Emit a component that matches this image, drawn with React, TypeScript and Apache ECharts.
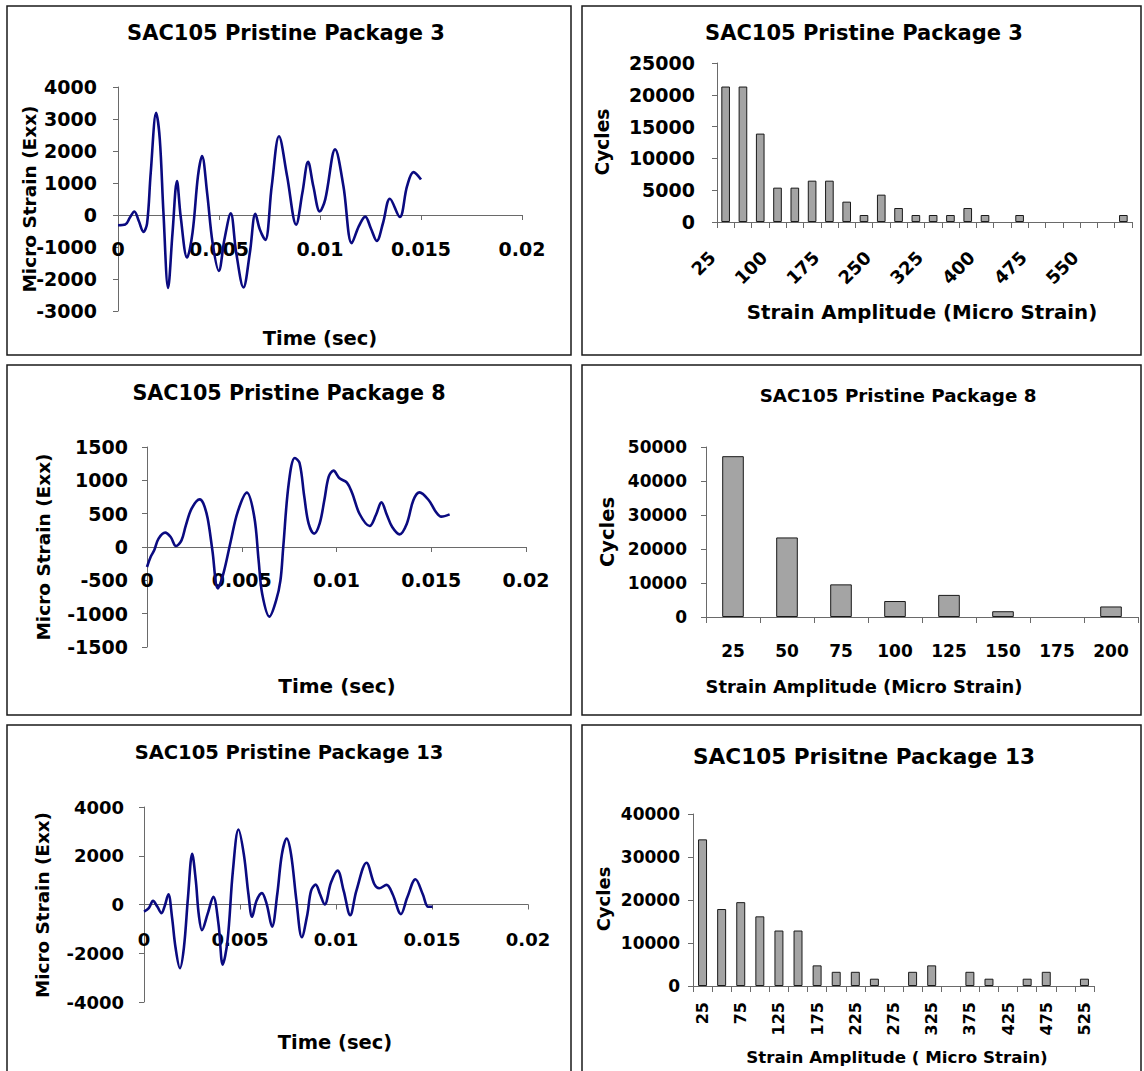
import React, { useEffect, useRef } from 'react';
import * as echarts from 'echarts';

const FONT = '"DejaVu Sans", sans-serif';

// ---- Strain history, Package 3 ----
const P3_TIME = [0, 0.00036, 0.00059, 0.00081, 0.00103, 0.00126, 0.00144, 0.00162, 0.00189, 0.00207, 0.00225, 0.00248, 0.0027, 0.00292, 0.0031, 0.00342, 0.00369, 0.00396, 0.00416, 0.00441, 0.00468, 0.00499, 0.00527, 0.00558, 0.00585, 0.00621, 0.00653, 0.0068, 0.00702, 0.00729, 0.00761, 0.00797, 0.00837, 0.00882, 0.00913, 0.00941, 0.00967, 0.00999, 0.01026, 0.01075, 0.01116, 0.01157, 0.01193, 0.01224, 0.01252, 0.01281, 0.01312, 0.01346, 0.01395, 0.01431, 0.01463, 0.015];
const P3_STRAIN = [-320, -300, -80, 110, -190, -530, -260, 1320, 3190, 2360, 70, -2280, -550, 1060, -30, -1330, -550, 1220, 1840, 700, -860, -1745, -760, 50, -1170, -2265, -1170, 40, -450, -780, 900, 2460, 1220, -300, 700, 1660, 900, 110, 490, 2050, 900, -880, -340, -50, -420, -810, -250, 510, -60, 900, 1340, 1110];

// ---- Strain history, Package 8 ----
const P8_TIME = [0, 0.00019, 0.00038, 0.00061, 0.00096, 0.00125, 0.00153, 0.00182, 0.00205, 0.00236, 0.00278, 0.00297, 0.0032, 0.00345, 0.00374, 0.00403, 0.00441, 0.00479, 0.00527, 0.00566, 0.00589, 0.00608, 0.00646, 0.00681, 0.00704, 0.00719, 0.00748, 0.0078, 0.00805, 0.0083, 0.00853, 0.00882, 0.00911, 0.00936, 0.00959, 0.00984, 0.01016, 0.01055, 0.01083, 0.01122, 0.01175, 0.01208, 0.01237, 0.01266, 0.01294, 0.01333, 0.01371, 0.01406, 0.01438, 0.01486, 0.01524, 0.01553, 0.01597];
const P8_STRAIN = [-300, -150, -50, 125, 215, 150, 15, 100, 325, 580, 715, 655, 430, -50, -620, -400, 75, 530, 815, 455, -200, -705, -1045, -805, -505, 0, 955, 1335, 1260, 755, 350, 200, 350, 705, 1055, 1145, 1030, 965, 805, 495, 315, 480, 670, 480, 300, 190, 350, 705, 820, 705, 530, 455, 490];

// ---- Strain history, Package 13 ----
const P13_TIME = [0, 0.00025, 0.00047, 0.0007, 0.00091, 0.00108, 0.00127, 0.00146, 0.00164, 0.00187, 0.00208, 0.00229, 0.00251, 0.0027, 0.00285, 0.00302, 0.00331, 0.00361, 0.00388, 0.0041, 0.00435, 0.00463, 0.00492, 0.0052, 0.00544, 0.00563, 0.00586, 0.00614, 0.00639, 0.00667, 0.00694, 0.00718, 0.00743, 0.00766, 0.00794, 0.00822, 0.00851, 0.0087, 0.00894, 0.00917, 0.00941, 0.00974, 0.01008, 0.0104, 0.01074, 0.01106, 0.01159, 0.012, 0.01225, 0.01263, 0.01295, 0.01338, 0.01371, 0.01414, 0.01452, 0.0148, 0.01503];
const P13_STRAIN = [-290, -150, 150, -95, -355, -55, 420, -530, -1755, -2610, -1755, 285, 2080, 965, -395, -1050, -395, 315, -805, -2465, -1485, 1375, 3075, 2055, 420, -505, 150, 465, 15, -910, 420, 2055, 2705, 2055, 150, -1345, -395, 560, 815, 420, 0, 900, 1390, 560, -435, 560, 1715, 830, 665, 805, 420, -395, 285, 1035, 420, -95, -95];

// ---- Cycle counts ----
const P3_AMP = ['25', '50', '75', '100', '125', '150', '175', '200', '225', '250', '275', '300', '325', '350', '375', '400', '425', '450', '475', '500', '525', '550', '575', '600'];
const P3_CYCLES = [21300, 21300, 13900, 5400, 5400, 6500, 6500, 3200, 1100, 4300, 2200, 1100, 1100, 1100, 2200, 1100, 0, 1100, 0, 0, 0, 0, 0, 1100];

const P8_AMP = ['25', '50', '75', '100', '125', '150', '175', '200'];
const P8_CYCLES = [47300, 23400, 9600, 4700, 6500, 1700, 0, 3100];

const P13_AMP = ['25', '50', '75', '100', '125', '150', '175', '200', '225', '250', '275', '300', '325', '350', '375', '400', '425', '450', '475', '500', '525'];
const P13_CYCLES = [34100, 17900, 19500, 16200, 12900, 12900, 4800, 3300, 3300, 1700, 0, 3300, 4800, 0, 3300, 1700, 0, 1700, 3300, 0, 1700];

const AXIS_COLOR = '#6a6a6a';

function zip(a: number[], b: number[]) {
  return a.map((v, i) => [v, b[i]]);
}

function txt(text: string, x: number, y: number, size: number, rot = 0) {
  return {
    type: 'text',
    x,
    y,
    rotation: rot,
    silent: true,
    style: {
      text,
      fill: '#000',
      fontFamily: FONT,
      fontWeight: 'bold',
      fontSize: size,
      align: 'center',
      verticalAlign: 'middle',
    },
  };
}

function frame(x: number, y: number, w: number, h: number) {
  return {
    type: 'rect',
    silent: true,
    shape: { x, y, width: w, height: h },
    style: { fill: 'none', stroke: '#1a1a1a', lineWidth: 1.5 },
  };
}

function labelStyle(size: number, extra: any = {}) {
  return { color: '#000', fontFamily: FONT, fontWeight: 'bold', fontSize: size, ...extra };
}

// offset moves the time axis up from the grid bottom to the zero line
function timeAxis(grid: number, size: number, margin: number, offset: number) {
  return {
    type: 'value',
    gridIndex: grid,
    min: 0,
    max: 0.02,
    interval: 0.005,
    offset,
    axisLine: { show: true, onZero: false, lineStyle: { color: AXIS_COLOR, width: 1 } },
    axisTick: { show: true, inside: false, length: 5, lineStyle: { color: AXIS_COLOR } },
    splitLine: { show: false },
    axisLabel: labelStyle(size, { margin, formatter: (v: number) => String(+v.toFixed(3)) }),
  };
}

function valueAxis(grid: number, min: number, max: number, interval: number, size: number, margin: number) {
  return {
    type: 'value',
    gridIndex: grid,
    min,
    max,
    interval,
    axisLine: { show: true, onZero: false, lineStyle: { color: AXIS_COLOR, width: 1 } },
    axisTick: { show: true, inside: false, length: 5, lineStyle: { color: AXIS_COLOR } },
    splitLine: { show: false },
    axisLabel: labelStyle(size, { margin, formatter: (v: number) => String(v) }),
  };
}

function catAxis(grid: number, data: string[], size: number, margin: number, labelInterval: number, rotate: number, extra: any = {}) {
  return {
    type: 'category',
    gridIndex: grid,
    data,
    boundaryGap: true,
    axisLine: { show: true, lineStyle: { color: AXIS_COLOR, width: 1 } },
    axisTick: { show: true, interval: 0, alignWithLabel: false, length: 6, lineStyle: { color: AXIS_COLOR } },
    splitLine: { show: false },
    axisLabel: labelStyle(size, { margin, interval: labelInterval, rotate, ...extra }),
  };
}

function lineSeries(idx: number, t: number[], v: number[]) {
  return {
    type: 'line',
    xAxisIndex: idx,
    yAxisIndex: idx,
    data: zip(t, v),
    smooth: 0.35,
    showSymbol: false,
    symbol: 'none',
    lineStyle: { color: '#0a0a80', width: 2.6 },
  };
}

function barSeries(idx: number, v: number[], width: string) {
  return {
    type: 'bar',
    xAxisIndex: idx,
    yAxisIndex: idx,
    data: v.map((x) => (x === 0 ? { value: 0, itemStyle: { borderWidth: 0 } } : x)),
    barWidth: width,
    itemStyle: { color: '#a4a4a4', borderColor: '#1a1a1a', borderWidth: 1 },
  };
}

export default function App() {
  const ref = useRef<HTMLDivElement>(null);

  useEffect(() => {
    if (!ref.current) return;
    const chart = echarts.init(ref.current, undefined, { renderer: 'svg' });
    const option: any = {
      animation: false,
      backgroundColor: '#fff',
      grid: [
        { left: 118, top: 87, width: 404, height: 224 },
        { left: 717, top: 63, width: 415, height: 159 },
        { left: 147, top: 447, width: 379, height: 200 },
        { left: 706, top: 447, width: 432, height: 170 },
        { left: 144, top: 807, width: 384, height: 195 },
        { left: 693, top: 814, width: 401, height: 172 },
      ],
      xAxis: [
        timeAxis(0, 19, 24, -96),
        catAxis(1, P3_AMP, 18, 19, 2, 45, { padding: [0, 19, 39, 0] }),
        timeAxis(2, 19, 23, -100),
        catAxis(3, P8_AMP, 17, 25, 0, 0),
        timeAxis(4, 18, 26, -97.5),
        catAxis(5, P13_AMP, 16, 16, 1, 90),
      ],
      yAxis: [
        valueAxis(0, -3000, 4000, 1000, 19, 21),
        valueAxis(1, 0, 25000, 5000, 19, 22),
        valueAxis(2, -1500, 1500, 500, 19, 19),
        valueAxis(3, 0, 50000, 10000, 17, 19),
        valueAxis(4, -4000, 4000, 2000, 18, 20),
        valueAxis(5, 0, 40000, 10000, 17, 13),
      ],
      series: [
        lineSeries(0, P3_TIME, P3_STRAIN),
        barSeries(1, P3_CYCLES, '50%'),
        lineSeries(2, P8_TIME, P8_STRAIN),
        barSeries(3, P8_CYCLES, '40%'),
        lineSeries(4, P13_TIME, P13_STRAIN),
        barSeries(5, P13_CYCLES, '47%'),
      ],
      graphic: [
        frame(7, 6, 564, 349),
        frame(582, 6, 559, 349),
        frame(7, 365, 564, 350),
        frame(582, 365, 559, 350),
        frame(7, 725, 564, 360),
        frame(582, 725, 559, 360),
        // top-left
        txt('SAC105 Pristine Package 3', 286, 33, 21),
        txt('Micro Strain (Exx)', 29, 199, 18.5, Math.PI / 2),
        txt('Time (sec)', 320, 338, 19.5),
        // top-right
        txt('SAC105 Pristine Package 3', 864, 33, 21),
        txt('Cycles', 602, 142, 18.6, Math.PI / 2),
        txt('Strain Amplitude (Micro Strain)', 922, 312, 19.8),
        // middle-left
        txt('SAC105 Pristine Package 8', 289, 393, 20.7),
        txt('Micro Strain (Exx)', 43, 547, 18.5, Math.PI / 2),
        txt('Time (sec)', 337, 686, 20),
        // middle-right
        txt('SAC105 Pristine Package 8', 898, 395, 18.3),
        txt('Cycles', 607, 532, 19.5, Math.PI / 2),
        txt('Strain Amplitude (Micro Strain)', 864, 686, 17.9),
        // bottom-left
        txt('SAC105 Pristine Package 13', 289, 752, 19.5),
        txt('Micro Strain (Exx)', 42, 905, 18.4, Math.PI / 2),
        txt('Time (sec)', 335, 1042, 19.5),
        // bottom-right
        txt('SAC105 Prisitne Package 13', 864, 756, 21.6),
        txt('Cycles', 603, 899, 18, Math.PI / 2),
        txt('Strain Amplitude ( Micro Strain)', 897, 1057, 16.7),
      ],
    };
    chart.setOption(option);
    return () => chart.dispose();
  }, []);

  return (
    <div
      ref={ref}
      style={{ position: 'absolute', left: 0, top: 0, width: 1144, height: 1071, background: '#fff' }}
    />
  );
}
